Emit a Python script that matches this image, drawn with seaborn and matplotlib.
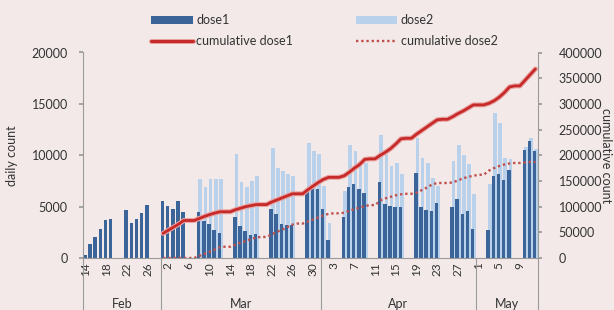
import numpy as np
import pandas as pd
import matplotlib
matplotlib.use('Agg')
import matplotlib.pyplot as plt
import matplotlib.patheffects as pe
from matplotlib.patches import Patch
from matplotlib.lines import Line2D
import matplotlib.transforms as mtransforms
import seaborn as sns

# ---- data ----
days = pd.date_range('2021-02-14', '2021-05-12', freq='D')

dose1 = [300,
         1350, 2000, 2800, 3650, 3750, 0, 0,        # Feb 15
         4700, 3450, 3750, 4350, 5200, 0, 0,        # Feb 22
         5500, 5100, 4800, 5500, 4450, 0, 0,        # Mar 1
         4500, 3600, 3300, 2700, 2400, 0, 0,        # Mar 8
         4000, 3100, 2600, 2200, 2350, 0, 0,        # Mar 15
         4750, 4250, 3350, 3200, 3200, 0, 0,        # Mar 22
         6550, 6750, 6750, 4750, 1750, 0, 0,        # Mar 29
         4000, 6900, 7200, 6700, 6300, 0, 0,        # Apr 5
         7350, 5250, 5100, 5000, 5000, 0, 0,        # Apr 12
         8300, 5000, 4700, 4600, 5400, 0, 0,        # Apr 19
         4950, 5750, 4300, 4550, 2850, 0, 0,        # Apr 26
         2750, 8000, 8150, 7550, 8550, 0, 0,        # May 3
         10550, 11350, 10400]                       # May 10

dose2 = [0,
         0, 0, 0, 0, 0, 0, 0,
         0, 0, 0, 0, 0, 0, 0,
         0, 0, 0, 0, 0, 0, 0,
         7700, 6900, 7700, 7700, 7700, 0, 0,        # Mar 8
         10100, 7400, 6900, 7500, 8000, 0, 0,       # Mar 15
         10700, 8800, 8500, 8200, 8000, 0, 0,       # Mar 22
         11200, 10400, 10100, 7000, 3400, 0, 0,     # Mar 29
         6500, 11000, 10400, 9400, 9200, 0, 0,      # Apr 5
         12000, 10100, 8950, 9250, 8150, 0, 0,      # Apr 12
         11700, 9750, 9250, 7800, 7000, 0, 0,       # Apr 19
         9400, 11000, 10000, 9100, 6200, 0, 0,      # Apr 26
         7200, 14100, 13100, 9750, 9600, 0, 0,      # May 3
         10800, 11700, 10600]                       # May 10

cum_start = '2021-03-01'
cum_dose1 = [48000, 54000, 60000, 66000, 73000, 73000, 73000,
             77000, 81000, 84500, 87500, 90000, 90000, 90000,
             94000, 97000, 100000, 102000, 104000, 104000, 104000,
             109000, 113000, 117000, 121000, 125000, 125000, 125000,
             133000, 140000, 147000, 153000, 157000, 157000, 157000,
             160000, 167000, 175000, 182000, 192000, 193000, 193000,
             200000, 206000, 213000, 222000, 232000, 233000, 233000,
             241000, 248000, 255000, 262000, 269000, 270000, 270000,
             275000, 281000, 286000, 292000, 298000, 298000, 298000,
             301000, 306000, 313000, 322000, 333000, 335000, 335000,
             346000, 357000, 368000]
cum_dose2 = [0, 0, 0, 0, 0, 0, 0,
             4000, 8000, 12000, 16500, 21000, 22000, 22000,
             26000, 30000, 33000, 37000, 40000, 41000, 41000,
             46000, 51000, 55000, 60000, 65000, 67000, 67000,
             71000, 75000, 79000, 83000, 86000, 87000, 87000,
             88000, 92000, 95000, 98000, 101000, 103000, 103000,
             112000, 116000, 119000, 122000, 124000, 125000, 125000,
             127000, 132000, 137000, 143000, 146000, 146000, 146000,
             147000, 151000, 155000, 158000, 160000, 162000, 162000,
             170000, 175000, 179000, 182000, 184000, 185000, 185000,
             186000, 187000, 187000]

dark_blue = '#3b6598'
light_blue = '#b9d1ea'
red = '#c62a2a'
bg = '#f2e9e8'
grey = '#9a9a9a'
txt = '#333333'

sns.set_theme(style='white')
plt.rcParams['font.family'] = ['Lato', 'DejaVu Sans']

fig = plt.figure(figsize=(6.14, 3.10), dpi=100, facecolor=bg)
ax = fig.add_axes([83 / 614, 1 - 258 / 310, (538 - 83) / 614, (258 - 52.5) / 310])
ax.set_facecolor(bg)

n = len(days)
idx = np.arange(n)
# dose2 sits behind dose1, shifted a little to the right (partly overlapping columns)
sns.barplot(x=idx + 0.18, y=dose2, native_scale=True, color=light_blue,
            width=0.72, saturation=1, linewidth=0, ax=ax)
sns.barplot(x=idx - 0.14, y=dose1, native_scale=True, color=dark_blue,
            width=0.68, saturation=1, linewidth=0, ax=ax)

ax2 = ax.twinx()
start = days.get_loc(pd.Timestamp(cum_start))
pos = np.arange(start, start + len(cum_dose1))
sns.lineplot(x=pos, y=cum_dose1, ax=ax2, color=red, linewidth=2.0,
             path_effects=[pe.Stroke(linewidth=3.6, foreground='#e9a3a0'), pe.Normal()])
sns.lineplot(x=pos, y=cum_dose2, ax=ax2, color='#c0504d', linewidth=1.7,
             linestyle=(0, (1, 1.2)))

for a in (ax, ax2):
    a.set_xlim(-0.5, n - 0.5)
ax.set_ylim(0, 20000)
ax2.set_ylim(0, 400000)
ax.set_yticks(range(0, 20001, 5000))
ax2.set_yticks(range(0, 400001, 50000))

# spines
for a in (ax, ax2):
    for s in a.spines.values():
        s.set_visible(False)
ax.spines['left'].set_visible(True)
ax.spines['bottom'].set_visible(True)
ax2.spines['right'].set_visible(True)
for s in (ax.spines['left'], ax.spines['bottom'], ax2.spines['right']):
    s.set_color(grey)
    s.set_linewidth(0.8)

ax.tick_params(axis='y', length=3, color=grey, labelsize=9, labelcolor=txt, pad=8)
ax2.tick_params(axis='y', length=3, color=grey, labelsize=9, labelcolor=txt, pad=12)
ax.set_ylabel('daily count', fontsize=9, color=txt, labelpad=10)
ax2.set_ylabel('cumulative count', fontsize=9, color=txt, rotation=270, va='center')
ax2.yaxis.set_label_coords((606 - 83) / (538 - 83), 0.5)
ax.set_xlabel('')

# date labels every 4 days, category separators
tick_pos = list(range(0, n, 4))
ax.set_xticks(tick_pos)
ax.set_xticklabels([str(days[i].day) for i in tick_pos], rotation=90,
                   fontsize=8.5, color=txt)
ax.tick_params(axis='x', which='major', length=0, pad=3)
ax.set_xticks(np.arange(-0.5, n, 1), minor=True)
ax.tick_params(axis='x', which='minor', length=18, width=0.5, color='#cfc6c6',
               direction='out')

# month row
trans = mtransforms.blended_transform_factory(ax.transData, ax.transAxes)
month_starts = [0] + [i for i in range(1, n) if days[i].month != days[i - 1].month] + [n]
for a0, a1 in zip(month_starts[:-1], month_starts[1:]):
    ax.text((a0 + a1 - 1) / 2, -0.225, days[a0].strftime('%b'), transform=trans,
            ha='center', va='center', fontsize=9, color=txt)
for b in month_starts:
    ax.plot([b - 0.5, b - 0.5], [0, -0.26], transform=trans, color=grey,
            linewidth=0.8, clip_on=False)

handles = [Patch(facecolor=dark_blue, edgecolor='none'),
           Line2D([], [], color=red, linewidth=2.2,
                  path_effects=[pe.Stroke(linewidth=3.6, foreground='#e9a3a0'), pe.Normal()]),
           Patch(facecolor=light_blue, edgecolor='none'),
           Line2D([], [], color='#c0504d', linewidth=1.7, linestyle=(0, (1, 1.2)))]
fig.legend(handles, ['dose1', 'cumulative dose1', 'dose2', 'cumulative dose2'],
           ncol=2, loc='upper left', bbox_to_anchor=(145 / 614, 1 - 8 / 310),
           frameon=False, fontsize=9, handlelength=3.3, handleheight=0.6,
           handletextpad=0.3, columnspacing=5, labelspacing=0.7, borderpad=0,
           labelcolor=txt)

fig.savefig('out.png', dpi=100, facecolor=bg)
